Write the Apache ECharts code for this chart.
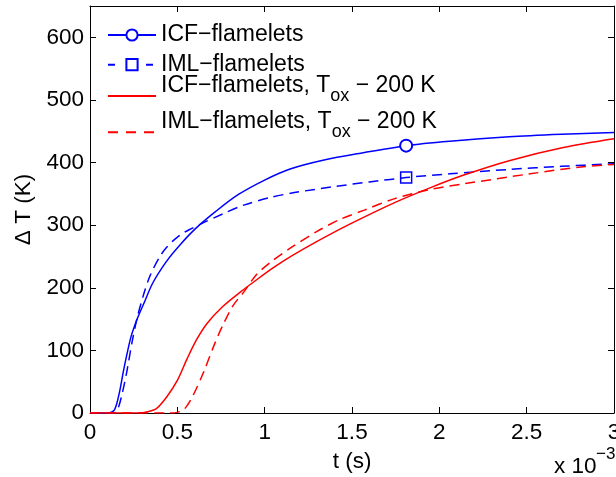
<!DOCTYPE html>
<html>
<head>
<meta charset="utf-8">
<script src="https://cdn.jsdelivr.net/npm/echarts@6/dist/echarts.min.js"></script>
<style>
html,body{margin:0;padding:0;background:#fff;}
#chart{width:616px;height:477px;}
</style>
</head>
<body>
<div id="chart"></div>
<script>
// ---- data (t in units of 1e-3 s, ΔT in K) ----
const tICF  = [0, 0.10, 0.14, 0.17, 0.19, 0.21, 0.235, 0.27, 0.31, 0.36, 0.44, 0.52, 0.61, 0.72, 0.85, 1.0, 1.15, 1.34, 1.55, 1.81, 2.06, 2.4, 2.7, 3.0];
const dtICF = [0, 0, 5, 35, 65, 92, 122, 150, 176, 208, 243, 270, 296, 322, 349, 372, 390, 404, 415, 427, 434, 441, 445, 448];

const tIML  = [0, 0.14, 0.155, 0.18, 0.21, 0.24, 0.27, 0.31, 0.345, 0.40, 0.44, 0.48, 0.52, 0.57, 0.65, 0.76, 0.88, 1.03, 1.17, 1.41, 1.6, 1.81, 2.06, 2.4, 2.7, 3.0];
const dtIML = [0, 0, 3, 26, 65, 112, 152, 192, 220, 250, 265, 276, 285, 293, 304, 318, 332, 344, 352, 362, 369, 376, 382, 389, 394, 398];

const tICF200  = [0, 0.28, 0.33, 0.38, 0.44, 0.50, 0.555, 0.61, 0.67, 0.76, 0.86, 0.96, 1.05, 1.15, 1.3, 1.49, 1.76, 1.95, 2.14, 2.4, 2.71, 3.0];
const dtICF200 = [0, 0, 2, 7, 26, 52, 86, 117, 143, 170, 193, 214, 232, 250, 274, 302, 338, 360, 380, 403, 424, 438];

const tIML200  = [0, 0.46, 0.50, 0.54, 0.59, 0.65, 0.71, 0.76, 0.82, 0.88, 0.95, 1.03, 1.15, 1.3, 1.43, 1.57, 1.74, 1.95, 2.14, 2.52, 2.81, 3.0];
const dtIML200 = [0, 0, 1, 6, 28, 65, 108, 140, 172, 193, 220, 240, 264, 290, 309, 324, 342, 357, 366, 382, 393, 397];

const markerT = 1.81;
const xTicks = [0, 0.5, 1, 1.5, 2, 2.5, 3];
const yTicks = [0, 100, 200, 300, 400, 500, 600];
const names = ['ICF−flamelets', 'IML−flamelets', 'ICF−flamelets, T_ox − 200 K', 'IML−flamelets, T_ox − 200 K'];

const zip = (a, b) => a.map((v, i) => [v, b[i]]);
const FONT = '"Liberation Sans", Arial, Helvetica, sans-serif';
const BLUE = '#0000ff', RED = '#ff0000';

const chart = echarts.init(document.getElementById('chart'), null, {renderer: 'canvas'});

const axisCommon = {
  type: 'value', min: 0,
  axisLine: {show: true, onZero: false, lineStyle: {color: '#000', width: 1}},
  axisTick: {show: true, inside: true, length: 6, lineStyle: {color: '#000', width: 1}},
  splitLine: {show: false}
};
const labelStyle = {color: '#000', fontSize: 22.5, fontFamily: FONT};

const richLegend = {
  m: {fontSize: 23, lineHeight: 23, verticalAlign: 'top', fontFamily: FONT, color: '#000'},
  s: {fontSize: 18, lineHeight: 44, fontFamily: FONT, color: '#000'}
};
const legendFmt = n => {
  if (n.indexOf('T_ox') < 0) return n;
  const parts = n.split('T_ox');
  return '{m|' + parts[0] + 'T}{s|ox}{m|' + parts[1] + '}';
};
function mkLegend(name, top, dash) {
  const lg = {
    data: [name], left: 107, top: top, padding: 0, orient: 'vertical',
    itemWidth: 48, itemHeight: 14, selectedMode: false,
    formatter: legendFmt,
    textStyle: {fontSize: 23, fontFamily: FONT, color: '#000', rich: richLegend}
  };
  if (dash) lg.lineStyle = {type: dash};
  return lg;
}

const iIcf = tICF.indexOf(markerT);
const iIml = tIML.indexOf(markerT);
const SM = 0.3;

const option = {
  animation: false,
  backgroundColor: '#fff',
  grid: {left: 90, right: 2, top: 6, bottom: 64, containLabel: false, outerBoundsMode: 'none'},
  xAxis: [
    Object.assign({}, axisCommon, {
      position: 'bottom', max: 3, interval: 0.5,
      axisLabel: Object.assign({}, labelStyle, {margin: 8, formatter: v => String(xTicks.find(t => Math.abs(t - v) < 1e-9) ?? v)}),
      name: 't (s)', nameLocation: 'middle', nameGap: 37,
      nameTextStyle: {color: '#000', fontSize: 22.5, fontFamily: FONT}
    }),
    Object.assign({}, axisCommon, {position: 'top', max: 3, interval: 0.5, axisLabel: {show: false}})
  ],
  yAxis: [
    Object.assign({}, axisCommon, {
      position: 'left', max: 650, interval: 100,
      axisLabel: Object.assign({}, labelStyle, {margin: 6, showMaxLabel: false,
        formatter: v => yTicks.indexOf(v) >= 0 ? String(v) : ''}),
      name: 'Δ T (K)', nameLocation: 'middle', nameGap: 48,
      nameTextStyle: {color: '#000', fontSize: 22.5, fontFamily: FONT}
    }),
    Object.assign({}, axisCommon, {position: 'right', max: 650, interval: 100, axisLabel: {show: false}})
  ],
  legend: [
    mkLegend(names[0], 23.5),
    mkLegend(names[1], 53.2, [7, 31]),
    mkLegend(names[2], 74),
    mkLegend(names[3], 110.2, [10, 8])
  ],
  series: [
    {
      name: names[0], type: 'line', data: zip(tICF, dtICF), showAllSymbol: true, smooth: SM,
      symbol: 'emptyCircle', symbolSize: (v, p) => p.dataIndex === iIcf ? 12 : 0,
      lineStyle: {color: BLUE, width: 1.5}, itemStyle: {color: BLUE, borderColor: BLUE, borderWidth: 1.5},
      emphasis: {disabled: true}, silent: true, z: 2
    },
    {
      name: names[1], type: 'line', data: zip(tIML, dtIML), showAllSymbol: true, smooth: SM,
      symbol: 'rect', symbolSize: (v, p) => p.dataIndex === iIml ? 11 : 0,
      lineStyle: {color: BLUE, width: 1.5, type: [10, 6]},
      itemStyle: {color: 'rgba(0,0,0,0)', borderColor: BLUE, borderWidth: 1.5},
      emphasis: {disabled: true}, silent: true, z: 3
    },
    {
      name: names[2], type: 'line', data: zip(tICF200, dtICF200), symbol: 'circle', showSymbol: false, smooth: SM,
      lineStyle: {color: RED, width: 1.5}, itemStyle: {color: 'rgba(0,0,0,0)', borderWidth: 0},
      emphasis: {disabled: true}, silent: true, z: 4
    },
    {
      name: names[3], type: 'line', data: zip(tIML200, dtIML200), symbol: 'circle', showSymbol: false, smooth: SM,
      lineStyle: {color: RED, width: 1.5, type: [10, 6]}, itemStyle: {color: 'rgba(0,0,0,0)', borderWidth: 0},
      emphasis: {disabled: true}, silent: true, z: 5
    }
  ],
  graphic: [
    {type: 'text', left: 554, top: 455, style: {text: 'x 10', fontSize: 22.5, fontFamily: FONT, fill: '#000'}},
    {type: 'text', left: 596, top: 446, style: {text: '−3', fontSize: 17, fontFamily: FONT, fill: '#000'}}
  ]
};
chart.setOption(option);
</script>
</body>
</html>
